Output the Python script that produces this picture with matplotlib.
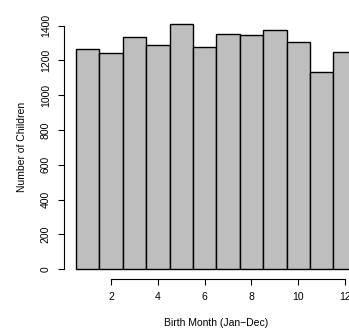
import matplotlib
matplotlib.use("Agg")
import matplotlib.pyplot as plt

months = [1, 2, 3, 4, 5, 6, 7, 8, 9, 10, 11, 12]
counts = [1264, 1245, 1333, 1287, 1411, 1277, 1350, 1344, 1376, 1308, 1132, 1249]
xticks = [2, 4, 6, 8, 10, 12]
yticks = [0, 200, 400, 600, 800, 1000, 1200, 1400]
xlabel = "Birth Month (Jan\u2212Dec)"
ylabel = "Number of Children"

plt.rcParams['font.family'] = ['Liberation Sans', 'DejaVu Sans']

W, H = 349, 329
fig = plt.figure(figsize=(W / 100, H / 100), dpi=100)
left, right, bottom, top = 63.7, 368.0, 279.1, 14.0
ax = fig.add_axes([left / W, (H - bottom) / H, (right - left) / W, (bottom - top) / H])
ax.bar(months, counts, width=1.0, color='#BEBEBE', edgecolor='black', linewidth=1.0)

ax.set_xlim(-0.02, 12.98)
ax.set_ylim(-56.4, 1467.0)
for s in ['top', 'right']:
    ax.spines[s].set_visible(False)
ax.spines['left'].set_bounds(0, 1400)
ax.spines['bottom'].set_bounds(2, 12)
for s in ['left', 'bottom']:
    ax.spines[s].set_linewidth(0.8)
ax.set_xticks(xticks)
ax.set_xticklabels([str(t) for t in xticks])
ax.set_yticks(yticks)
ax.set_yticklabels([str(t) for t in yticks], rotation=90, va='center')
ax.tick_params(axis='both', direction='out', length=4.3, width=0.8, labelsize=7.5, pad=5)

fig.text(216 / W, 1 - 323 / H, xlabel, ha='center', va='center', fontsize=7.5)
fig.text(22 / W, 1 - 146.5 / H, ylabel, ha='center', va='center', rotation=90, fontsize=7.5)

fig.savefig('out.png', dpi=100)
